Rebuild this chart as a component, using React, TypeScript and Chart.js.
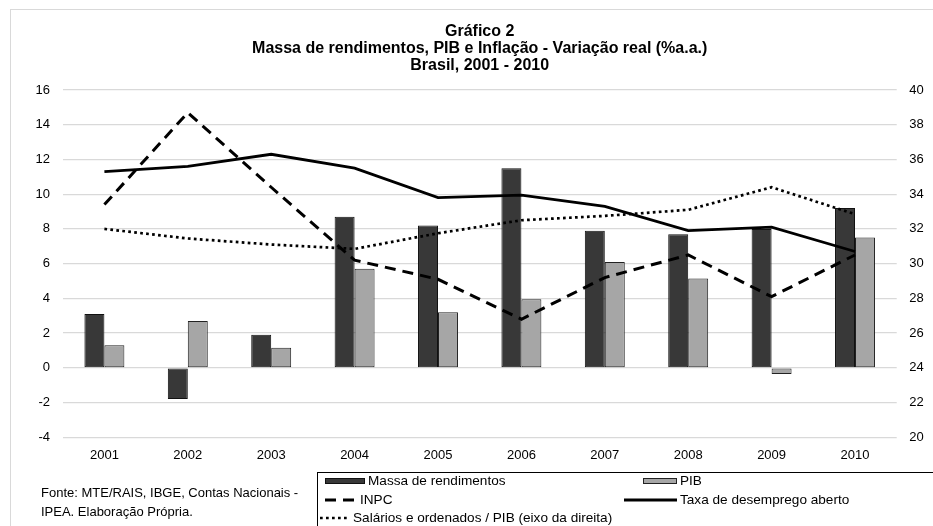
import { useEffect, useRef } from "react";
import { Chart, registerables } from "chart.js";

Chart.register(...registerables);

const years = ["2001", "2002", "2003", "2004", "2005", "2006", "2007", "2008", "2009", "2010"];
const massaRendimentos = [3.1, -1.8, 1.9, 8.7, 8.2, 11.5, 7.9, 7.7, 8.0, 9.2];
const pib = [1.3, 2.7, 1.15, 5.7, 3.2, 3.95, 6.1, 5.15, -0.35, 7.5];
const inpc = [9.4, 14.7, 10.4, 6.2, 5.1, 2.8, 5.2, 6.5, 4.1, 6.5];
const desemprego = [11.3, 11.6, 12.3, 11.5, 9.8, 9.95, 9.3, 7.9, 8.1, 6.7];
const salariosPib = [32.0, 31.45, 31.1, 30.85, 31.75, 32.5, 32.75, 33.1, 34.4, 32.85];

const leftTicks = { min: -4, max: 16, step: 2 };
const rightTicks = { min: 20, max: 40, step: 2 };

const titleLines = [
  "Gráfico 2",
  "Massa de rendimentos, PIB e Inflação - Variação real (%a.a.)",
  "Brasil, 2001 - 2010",
];
const footnoteLines = ["Fonte: MTE/RAIS, IBGE, Contas Nacionais -", "IPEA. Elaboração Própria."];

const FONT = "'Liberation Sans', Arial, Helvetica, sans-serif";

const legendLayout = [
  { ds: 0, kind: "box", x1: 325, x2: 365, y: 481, tx: 368 },
  { ds: 1, kind: "box", x1: 643, x2: 677, y: 481, tx: 680 },
  { ds: 2, kind: "line", x1: 325, x2: 354, y: 500, tx: 360 },
  { ds: 3, kind: "line", x1: 624, x2: 677, y: 500, tx: 680 },
  { ds: 4, kind: "line", x1: 320, x2: 350, y: 518, tx: 353 },
];

const decorPlugin = {
  id: "decor",
  beforeDraw(chart: any) {
    const ctx = chart.ctx as CanvasRenderingContext2D;
    ctx.save();
    ctx.strokeStyle = "#d9d9d9";
    ctx.lineWidth = 1;
    ctx.strokeRect(10.5, 9.5, 1000, 1000);
    ctx.restore();
  },
  afterDraw(chart: any) {
    const ctx = chart.ctx as CanvasRenderingContext2D;
    ctx.save();
    ctx.strokeStyle = "#000";
    ctx.lineWidth = 1;
    ctx.strokeRect(317.5, 472.5, 700, 100);
    ctx.font = `13.6px ${FONT}`;
    ctx.textBaseline = "middle";
    ctx.textAlign = "left";
    legendLayout.forEach((it) => {
      const ds = chart.data.datasets[it.ds];
      if (it.kind === "box") {
        ctx.fillStyle = ds.backgroundColor;
        ctx.fillRect(it.x1, it.y - 2.5, it.x2 - it.x1, 5);
        ctx.strokeStyle = ds.borderColor;
        ctx.lineWidth = 1;
        ctx.setLineDash([]);
        ctx.strokeRect(it.x1 + 0.5, it.y - 2.5, it.x2 - it.x1 - 1, 5);
      } else {
        ctx.strokeStyle = ds.borderColor;
        ctx.lineWidth = ds.borderWidth;
        ctx.setLineDash(ds.borderDash || []);
        ctx.beginPath();
        ctx.moveTo(it.x1, it.y);
        ctx.lineTo(it.x2, it.y);
        ctx.stroke();
        ctx.setLineDash([]);
      }
      ctx.fillStyle = "#000";
      ctx.fillText(ds.label, it.tx, it.y);
    });
    ctx.font = `13px ${FONT}`;
    footnoteLines.forEach((t, i) => ctx.fillText(t, 41, 493 + i * 19));
    ctx.restore();
  },
};

export default function App() {
  const ref = useRef<HTMLCanvasElement>(null);
  useEffect(() => {
    const canvas = ref.current;
    if (!canvas) return;
    const chart = new Chart(canvas, {
      type: "bar",
      data: {
        labels: years,
        datasets: [
          {
            type: "bar",
            label: "Massa de rendimentos",
            data: massaRendimentos,
            backgroundColor: "#383838",
            borderColor: "#111111",
            borderWidth: 1,
            borderSkipped: false,
            yAxisID: "y",
            order: 2,
            barPercentage: 1,
            categoryPercentage: 0.479,
          },
          {
            type: "bar",
            label: "PIB",
            data: pib,
            backgroundColor: "#a6a6a6",
            borderColor: "#222222",
            borderWidth: 1,
            borderSkipped: false,
            yAxisID: "y",
            order: 2,
            barPercentage: 1,
            categoryPercentage: 0.479,
          },
          {
            type: "line",
            label: "INPC",
            data: inpc,
            borderColor: "#000000",
            borderWidth: 3,
            borderDash: [11, 7],
            pointRadius: 0,
            fill: false,
            tension: 0,
            yAxisID: "y",
            order: 1,
          },
          {
            type: "line",
            label: "Taxa de desemprego aberto",
            data: desemprego,
            borderColor: "#000000",
            borderWidth: 2.8,
            pointRadius: 0,
            fill: false,
            tension: 0,
            yAxisID: "y",
            order: 1,
          },
          {
            type: "line",
            label: "Salários e ordenados / PIB (eixo da direita)",
            data: salariosPib,
            borderColor: "#000000",
            borderWidth: 2.7,
            borderDash: [2.7, 3.3],
            pointRadius: 0,
            fill: false,
            tension: 0,
            yAxisID: "y1",
            order: 1,
          },
        ] as any,
      },
      options: {
        responsive: false,
        animation: false,
        layout: { padding: { left: 0, right: 0, top: 0, bottom: 58.7 } },
        plugins: {
          legend: { display: false },
          tooltip: { enabled: false },
          title: {
            display: true,
            text: titleLines,
            fullSize: false,
            color: "#000",
            font: { family: FONT, size: 16, weight: "bold", lineHeight: 17 / 16 },
            padding: { top: 23.5, bottom: 15.5 },
          },
        },
        scales: {
          x: {
            grid: { display: false, drawTicks: false },
            border: { display: false },
            ticks: { color: "#000", font: { family: FONT, size: 13 }, padding: 10, maxRotation: 0 },
            afterFit: (s: any) => {
              s.height = 30;
            },
          },
          y: {
            position: "left",
            min: leftTicks.min,
            max: leftTicks.max,
            grid: { color: "#d9d9d9", lineWidth: 1.3, drawTicks: false },
            border: { display: false },
            ticks: { stepSize: leftTicks.step, color: "#000", font: { family: FONT, size: 13 }, padding: 12.7 },
            afterFit: (s: any) => {
              s.width = 62.7;
            },
          },
          y1: {
            position: "right",
            min: rightTicks.min,
            max: rightTicks.max,
            grid: { display: false, drawTicks: false },
            border: { display: false },
            ticks: { stepSize: rightTicks.step, color: "#000", font: { family: FONT, size: 13 }, padding: 12.5 },
            afterFit: (s: any) => {
              s.width = 36.3;
            },
          },
        },
      } as any,
      plugins: [decorPlugin],
    });
    return () => chart.destroy();
  }, []);
  return (
    <div style={{ position: "absolute", left: 0, top: 0, width: 933, height: 526, background: "#fff" }}>
      <canvas ref={ref} width={933} height={526} style={{ display: "block" }} />
    </div>
  );
}
